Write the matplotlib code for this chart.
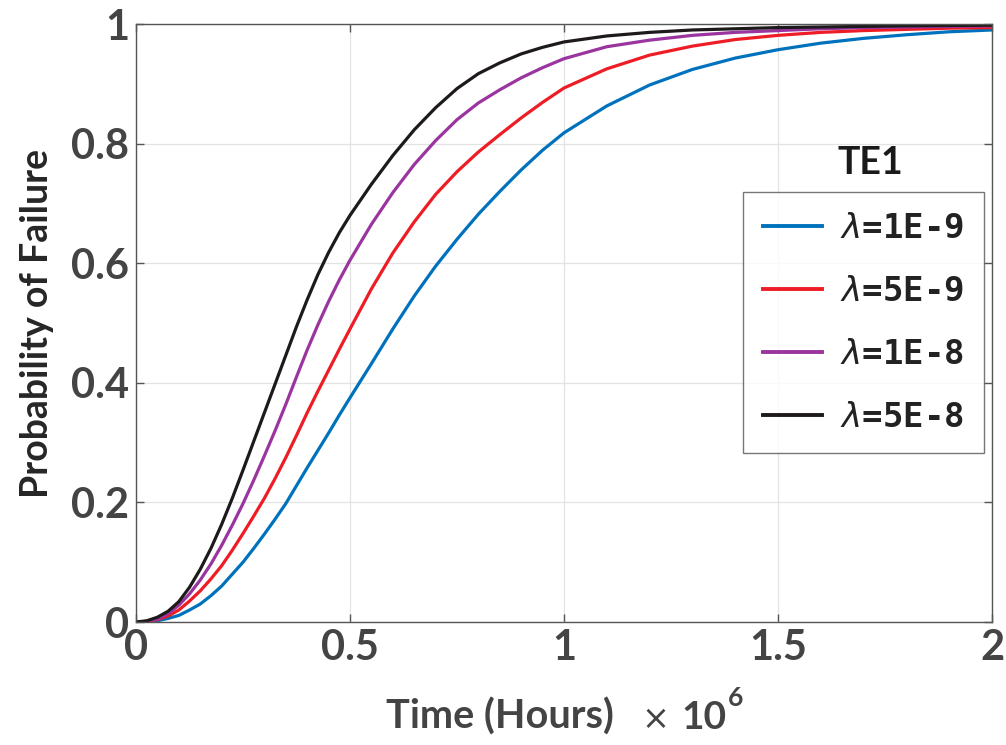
import matplotlib
matplotlib.use("Agg")
import matplotlib.pyplot as plt
from matplotlib.lines import Line2D

# Time axis (hours, in units of 1e6)
time_h = [0.0, 0.025, 0.05, 0.075, 0.1, 0.125, 0.15, 0.175, 0.2, 0.225, 0.25, 0.275,
          0.3, 0.325, 0.35, 0.375, 0.4, 0.425, 0.45, 0.475, 0.5, 0.55, 0.6, 0.65, 0.7, 0.75,
          0.8, 0.85, 0.9, 0.95, 1.0, 1.1, 1.2, 1.3, 1.4, 1.5, 1.6, 1.7, 1.8, 1.9, 2.0]

# Probability of failure for each failure rate
p_1e9 = [0.0, 0.0005, 0.002, 0.006, 0.011, 0.020, 0.030, 0.044, 0.060, 0.080, 0.100, 0.123,
         0.147, 0.172, 0.198, 0.228, 0.258, 0.287, 0.316, 0.346, 0.375, 0.432, 0.490, 0.545,
         0.595, 0.640, 0.682, 0.720, 0.756, 0.789, 0.818, 0.863, 0.898, 0.924, 0.943, 0.957,
         0.968, 0.976, 0.982, 0.987, 0.990]
p_5e9 = [0.0, 0.001, 0.004, 0.010, 0.020, 0.035, 0.052, 0.072, 0.094, 0.120, 0.148, 0.177,
         0.207, 0.240, 0.275, 0.312, 0.350, 0.386, 0.421, 0.456, 0.490, 0.557, 0.617, 0.669,
         0.715, 0.753, 0.786, 0.815, 0.843, 0.869, 0.893, 0.925, 0.948, 0.963, 0.974, 0.981,
         0.986, 0.989, 0.991, 0.993, 0.994]
p_1e8 = [0.0, 0.001, 0.005, 0.014, 0.028, 0.047, 0.070, 0.097, 0.128, 0.162, 0.198, 0.237,
         0.278, 0.320, 0.364, 0.410, 0.455, 0.497, 0.536, 0.572, 0.605, 0.665, 0.718, 0.765,
         0.805, 0.840, 0.868, 0.890, 0.910, 0.927, 0.942, 0.962, 0.973, 0.981, 0.986, 0.989,
         0.992, 0.994, 0.995, 0.996, 0.997]
p_5e8 = [0.0, 0.002, 0.008, 0.018, 0.034, 0.058, 0.088, 0.123, 0.163, 0.207, 0.254, 0.302,
         0.350, 0.398, 0.446, 0.494, 0.539, 0.581, 0.618, 0.651, 0.680, 0.732, 0.780, 0.823,
         0.860, 0.892, 0.917, 0.935, 0.950, 0.961, 0.970, 0.980, 0.986, 0.990, 0.992, 0.994,
         0.995, 0.996, 0.997, 0.9975, 0.998]

series_labels = [r"$\lambda$=1E-9", r"$\lambda$=5E-9", r"$\lambda$=1E-8", r"$\lambda$=5E-8"]
series_colors = ["#0072BD", "#EE1C25", "#9A35A0", "#1E1A1C"]

x_ticks = [0, 0.5, 1, 1.5, 2]
x_tick_labels = ["0", "0.5", "1", "1.5", "2"]
y_ticks = [0, 0.2, 0.4, 0.6, 0.8, 1]
y_tick_labels = ["0", "0.2", "0.4", "0.6", "0.8", "1"]

plt.rcParams["font.family"] = ["Lato", "DejaVu Sans"]
plt.rcParams["mathtext.fontset"] = "dejavusans"

W, H = 1006, 745
fig = plt.figure(figsize=(W / 100, H / 100), dpi=100)
ax_l, ax_r, ax_t, ax_b = 136, 992, 24, 622
ax = fig.add_axes([ax_l / W, 1 - ax_b / H, (ax_r - ax_l) / W, (ax_b - ax_t) / H])

for ys, col, lab in zip([p_1e9, p_5e9, p_1e8, p_5e8], series_colors, series_labels):
    ax.plot(time_h, ys, color=col, lw=2.3, label=lab, solid_capstyle="round",
            solid_joinstyle="round")

ax.set_xlim(0, 2)
ax.set_ylim(0, 1)
ax.set_xticks(x_ticks)
ax.set_xticklabels(x_tick_labels)
ax.set_yticks(y_ticks)
ax.set_yticklabels(y_tick_labels)

ax.grid(True, color="#E3E3E3", lw=0.9)
ax.set_axisbelow(True)
for s in ax.spines.values():
    s.set_color("#555555")
    s.set_linewidth(1.0)
ax.tick_params(direction="in", length=6, width=1.0, color="#555555",
               top=True, right=True, labelsize=30, labelcolor="#444444", pad=5)
for lbl in ax.get_xticklabels() + ax.get_yticklabels():
    lbl.set_fontweight("bold")

ax.set_ylabel("Probability of Failure", fontsize=27, fontweight="bold",
              color="#262626", labelpad=12)

# x-axis label with the scale factor written after it
base_y = 1 - 729 / H
fig.text(386 / W, base_y, "Time (Hours)", fontsize=28.5, fontweight="bold",
         color="#444444", ha="left", va="baseline")
fig.text(655 / W, base_y, "\u00d7", fontsize=24, color="#444444",
         ha="center", va="baseline", family="DejaVu Sans")
fig.text(681 / W, base_y, "10", fontsize=28, fontweight="bold",
         color="#444444", ha="left", va="baseline")
fig.text(728 / W, 1 - 706 / H, "6", fontsize=19, fontweight="bold",
         color="#444444", ha="left", va="baseline")

handles = [Line2D([0], [0], color=c, lw=2.8) for c in series_colors]
leg = ax.legend(handles, series_labels, loc="upper left",
                bbox_to_anchor=((743 - ax_l) / (ax_r - ax_l), (ax_b - 192) / (ax_b - ax_t)),
                borderaxespad=0, frameon=True, fancybox=False, edgecolor="#555555",
                handlelength=1.76, handletextpad=0.53, labelspacing=0.885,
                borderpad=0.575,
                prop={"family": "DejaVu Sans Mono", "weight": "bold", "size": 24.5})
leg.get_frame().set_linewidth(1.0)
for t in leg.get_texts():
    t.set_color("#222222")

ax.text((870 - ax_l) / (ax_r - ax_l), (ax_b - 163) / (ax_b - ax_t), "TE1",
        transform=ax.transAxes, fontsize=27, fontweight="bold", color="#1A1A1A",
        ha="center", va="center")

fig.savefig("out.png", dpi=100)
